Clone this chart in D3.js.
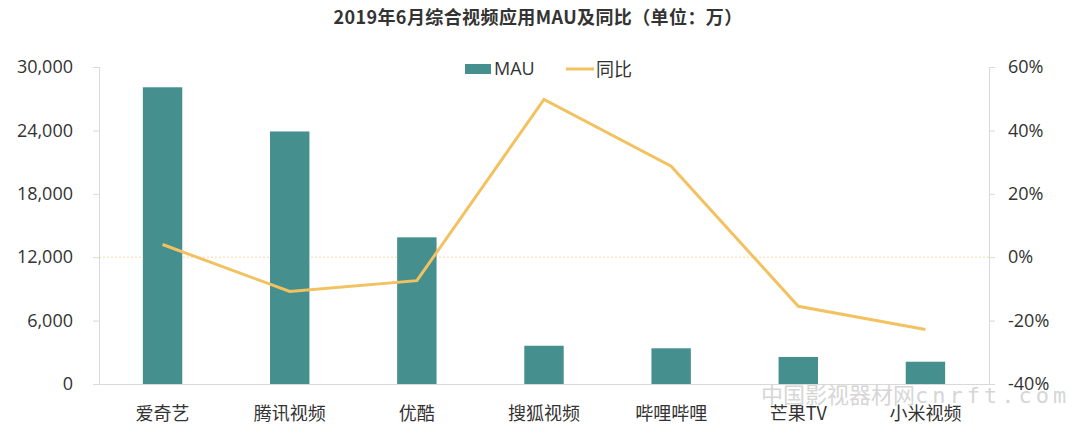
<!DOCTYPE html>
<html>
<head>
<meta charset="utf-8">
<script src="https://cdn.jsdelivr.net/npm/d3@7"></script>
<style>
body { margin: 0; background: #fff; }
text { font-family: "Noto Sans CJK SC", "Noto Sans", sans-serif; }
</style>
</head>
<body>
<svg id="main_svg" width="1080" height="440"></svg>
<script>
// 数据
var apps = ["爱奇艺", "腾讯视频", "优酷", "搜狐视频", "哔哩哔哩", "芒果TV", "小米视频"];
var mau = [28080, 23900, 13880, 3620, 3380, 2560, 2110];
var yoy = [4.0, -10.8, -7.4, 49.8, 28.7, -15.5, -22.8];
var leftTicks = [0, 6000, 12000, 18000, 24000, 30000];
var rightTicks = [-40, -20, 0, 20, 40, 60];

var barColor = "#468f8f";
var lineColor = "#f2c261";

var svg = d3.select("#main_svg");
// 注意: top 是 window 的保留属性, 用 plotTop
var plotLeft = 99, plotRight = 989, plotTop = 67, plotBottom = 384;

var x = d3.scaleBand().domain(apps).range([plotLeft, plotRight]).paddingInner(0.69).paddingOuter(0.345);
var y = d3.scaleLinear().domain([0, 30000]).range([plotBottom, plotTop]);
var y2 = d3.scaleLinear().domain([-40, 60]).range([plotBottom, plotTop]);

// 标题
svg.append("text")
    .attr("x", 538).attr("y", 24)
    .attr("text-anchor", "middle")
    .attr("font-size", 18).attr("font-weight", "bold")
    .attr("fill", "#333")
    .attr("letter-spacing", 0.4)
    .text("2019年6月综合视频应用MAU及同比（单位：万）");

// 左轴
var yAxis = svg.append("g")
    .attr("transform", "translate(" + plotLeft + ",0)")
    .call(d3.axisLeft(y).tickValues(leftTicks).tickSize(6).tickPadding(20).tickFormat(d3.format(",")));
// 右轴
var yAxis2 = svg.append("g")
    .attr("transform", "translate(" + plotRight + ",0)")
    .call(d3.axisRight(y2).tickValues(rightTicks).tickSize(6).tickPadding(13).tickFormat(function(d) { return d + "%"; }));

[yAxis, yAxis2].forEach(function(g) {
    g.select(".domain").attr("stroke", "#d9d9d9");
    g.selectAll(".tick line").attr("stroke", "#d9d9d9");
    g.selectAll(".tick text").attr("font-size", 18).attr("fill", "#333")
        .style("font-family", "'Open Sans', 'Noto Sans', sans-serif");
});

// 底部x轴
var xAxis = svg.append("g")
    .attr("transform", "translate(0," + plotBottom + ")")
    .call(d3.axisBottom(x).tickSize(0).tickPadding(23));
xAxis.select(".domain").attr("stroke", "#d9d9d9");
xAxis.selectAll(".tick text").attr("font-size", 18).attr("fill", "#333");

// 0% 虚线
svg.append("line")
    .attr("x1", plotLeft).attr("x2", plotRight)
    .attr("y1", y2(0)).attr("y2", y2(0))
    .attr("stroke", "#f7d9a0").attr("stroke-width", 1)
    .attr("stroke-dasharray", "2,2");

// 柱子
svg.append("g")
    .selectAll("rect")
    .data(apps)
    .enter()
    .append("rect")
    .attr("x", function(d) { return x(d); })
    .attr("width", x.bandwidth())
    .attr("y", function(d, i) { return y(mau[i]); })
    .attr("height", function(d, i) { return plotBottom - y(mau[i]); })
    .attr("fill", barColor);

// 折线
var line = d3.line()
    .x(function(d, i) { return x(apps[i]) + x.bandwidth() / 2; })
    .y(function(d) { return y2(d); });
svg.append("path")
    .datum(yoy)
    .attr("d", line)
    .attr("fill", "none")
    .attr("stroke", lineColor)
    .attr("stroke-width", 3);

// 图例
var legend = svg.append("g").attr("font-size", 18);
legend.append("rect").attr("x", 465).attr("y", 64).attr("width", 26).attr("height", 10).attr("fill", barColor);
legend.append("text").attr("x", 494).attr("y", 75).attr("fill", "#333").text("MAU")
    .style("font-family", "'Open Sans', 'Noto Sans', sans-serif");
legend.append("line").attr("x1", 566).attr("x2", 594).attr("y1", 69).attr("y2", 69)
    .attr("stroke", lineColor).attr("stroke-width", 3);
legend.append("text").attr("x", 596).attr("y", 76).attr("fill", "#333").text("同比");

// 水印
var mark = svg.append("text")
    .attr("x", 761).attr("y", 403)
    .attr("font-size", 22)
    .attr("fill", "#d6d6d6");
mark.append("tspan").text("中国影视器材网");
mark.append("tspan")
    .style("font-family", "'DejaVu Sans Mono', monospace")
    .attr("letter-spacing", 4)
    .text("cnrft.com");
</script>
</body>
</html>
